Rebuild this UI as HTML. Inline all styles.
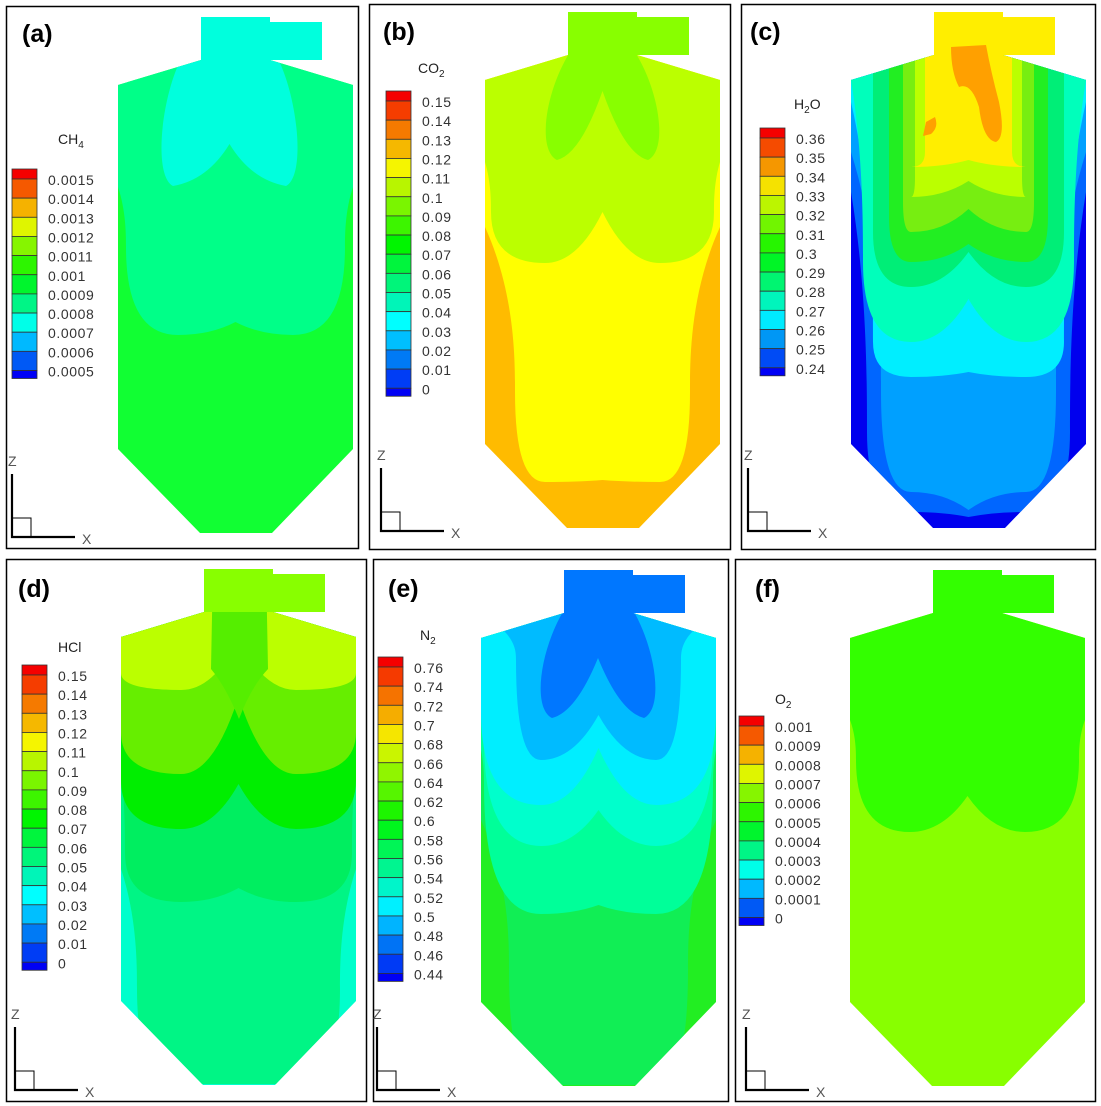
<!DOCTYPE html>
<html><head><meta charset="utf-8"><style>
html,body{margin:0;padding:0;background:#fff;}
svg{display:block;font-family:"Liberation Sans",sans-serif;}
</style></head><body>
<svg id="fig" width="1101" height="1106" viewBox="0 0 1101 1106" xmlns="http://www.w3.org/2000/svg"></svg>
<script>
// ---- legend data ----
const labelsA = ["0.0015","0.0014","0.0013","0.0012","0.0011","0.001","0.0009","0.0008","0.0007","0.0006","0.0005"];
const labelsB = ["0.15","0.14","0.13","0.12","0.11","0.1","0.09","0.08","0.07","0.06","0.05","0.04","0.03","0.02","0.01","0"];
const labelsC = ["0.36","0.35","0.34","0.33","0.32","0.31","0.3","0.29","0.28","0.27","0.26","0.25","0.24"];
const labelsD = ["0.15","0.14","0.13","0.12","0.11","0.1","0.09","0.08","0.07","0.06","0.05","0.04","0.03","0.02","0.01","0"];
const labelsE = ["0.76","0.74","0.72","0.7","0.68","0.66","0.64","0.62","0.6","0.58","0.56","0.54","0.52","0.5","0.48","0.46","0.44"];
const labelsF = ["0.001","0.0009","0.0008","0.0007","0.0006","0.0005","0.0004","0.0003","0.0002","0.0001","0"];

const NS="http://www.w3.org/2000/svg";
const svg=document.getElementById('fig');
function mk(tag,attrs,parent){const e=document.createElementNS(NS,tag);for(const k in attrs)e.setAttribute(k,attrs[k]);(parent||svg).appendChild(e);return e;}

const W=235, CX=117.5;
const bodyPath="M0,68 L83,43 L152,43 L235,68 L235,432 L154,516 L82,516 L0,432 Z";
const outletPath="M83,0 L152,0 L152,5 L204,5 L204,43 L83,43 Z";
function band(l){const i=l.i||0;const r=W-i;
 let start, end;
 if(l.flat){start=`M${i},-10 L${r},-10 L${r},${l.yl}`; end=` Z`;}
 else if(i>0){const yt=(l.yt!==undefined)?l.yt:68;
  start=`M-10,-10 L245,-10 L245,${yt} L${W},${yt} C${r},${yt+(l.yl-yt)*0.4} ${r},${l.yl-(l.yl-yt)*0.2} ${r},${l.yl}`;
  end=` C${i},${l.yl-(l.yl-yt)*0.2} ${i},${yt+(l.yl-yt)*0.4} 0,${yt} L-10,${yt} Z`;
 } else {start=`M-10,-10 L245,-10 L245,${l.yl} L${r},${l.yl}`; end=` L-10,${l.yl} Z`;}
 return start+` Q${r},${l.yd} ${W-60},${l.yd} Q${CX+25},${l.yd} ${CX},${l.yp} Q${CX-25},${l.yd} 60,${l.yd} Q${i},${l.yd} ${i},${l.yl}`+end;}
function lobes(x1,x2,yb,yn,t1,t2){const c=(x1+x2)/2;
 return `M${t1},40 C${x1+4},80 ${x1-4},${yb-10} ${x1+16},${yb} Q${c-22},${yb-6} ${c},${yn} Q${c+22},${yb-6} ${x2-16},${yb} C${x2+4},${yb-10} ${x2-4},80 ${t2},40 Z`;}

const panels=[
 {id:'a',box:[6,6,352,542],L:118,T:17,lab:[22,42],title:'CH',sub:'4',tpos:[58,144],lx:12,ly0:179,labels:labelsA,axis:[12,537],
  base:'#11ff33',layers:[{c:'#00ff88',i:8,yt:170,yl:230,yd:318,yp:305}],lobe:{c:'#00ffdd',x1:39,x2:184,yb:169,yn:127,t1:64,t2:159},outlet:'#00ffdd'},
 {id:'b',box:[369,4,361,545],L:485,T:12,lab:[383,40],title:'CO',sub:'2',tpos:[418,73],lx:386,ly0:101,labels:labelsB,axis:[381,531],
  base:'#ffbb00',layers:[{c:'#ffff00',i:30,yt:215,yl:380,yd:470,yp:468},{c:'#bbff00',i:6,yt:150,yl:200,yd:251,yp:200}],lobe:{c:'#88ff00',x1:56,x2:179,yb:148,yn:79,t1:85,t2:150},outlet:'#88ff00'},
 {id:'c',box:[741,4,354,545],L:851,T:12,lab:[750,40],title:'H',sub:'2',tail:'O',tpos:[794,109],lx:760,ly0:138,labels:labelsC,axis:[748,531],
  base:'#0000ee',layers:[{c:'#0066ff',i:16,yt:180,yl:420,yd:500,yp:505},{c:'#00a0ff',i:30,yt:140,yl:380,yd:480,yp:498},{c:'#00eeff',i:22,yt:90,yl:330,yd:365,yp:360},
   {c:'#00ffbb',i:12,yt:68,yl:250,yd:330,yp:287},{c:'#00ee77',i:22,flat:true,yl:220,yd:275,yp:240},{c:'#22ee22',i:38,flat:true,yl:205,yd:250,yp:232},{c:'#77ee11',i:52,flat:true,yl:190,yd:220,yp:197},
   {c:'#bbff00',i:64,flat:true,yl:165,yd:185,yp:169},{c:'#ffee00',i:74,flat:true,yl:140,yd:155,yp:148}],outlet:'#ffee00',orange:true},
 {id:'d',box:[6,559,360,542],L:121,T:569,lab:[18,597],title:'HCl',tpos:[58,652],lx:22,ly0:675,labels:labelsD,axis:[15,1090],
  base:'#00ffcc',layers:[{c:'#00f585',i:16,yt:300,yl:420,yd:515,yp:515},{c:'#00ee60',i:4,yt:200,yl:284,yd:333,yp:319},{c:'#00ee00',yl:211,yd:260,yp:215},
   {c:'#66ee00',yl:163,yd:205,yp:128},{c:'#bbff00',yl:104,yd:121,yp:70}],stem:'#55ee00',outlet:'#88ff00'},
 {id:'e',box:[373,559,355,542],L:481,T:570,lab:[388,597],title:'N',sub:'2',tpos:[420,640],lx:378,ly0:667,labels:labelsE,axis:[377,1090],
  base:'#22ee22',layers:[{c:'#11ee55',i:28,yt:250,yl:400,yd:515,yp:515},{c:'#00ff99',i:3,yt:180,yl:215,yd:344,yp:335},{c:'#00ffcc',i:3,yt:130,yl:170,yd:276,yp:240},
   {c:'#00eeff',yl:141,yd:235,yp:178},{c:'#00bbff',i:35,yt:45,yl:90,yd:190,yp:145}],lobe:{c:'#0077ff',x1:55,x2:179,yb:148,yn:88,t1:83,t2:152},outlet:'#0077ff'},
 {id:'f',box:[735,559,360,542],L:850,T:570,lab:[755,597],title:'O',sub:'2',tpos:[775,704],lx:739,ly0:726,labels:labelsF,axis:[746,1090],
  base:'#88ff00',layers:[{c:'#33ff00',i:6,yt:150,yl:190,yd:262,yp:226}],outlet:'#33ff00'}
];

function legendColor(k,n){const h=240*(1-k/(n-1));return `hsl(${h},100%,${h>170&&h<200?50:48}%)`;}

panels.forEach(p=>{
 const g=mk('g',{});
 
 
 const fr=mk('rect',{x:p.box[0]+0.5,y:p.box[1]+0.5,width:p.box[2],height:p.box[3],fill:'none',stroke:'#000','stroke-width':1.5},g);
 
 
 const lt=mk('text',{x:p.lab[0],y:p.lab[1],'font-size':25,'font-weight':'bold',fill:'#000'},g);
 lt.textContent='('+p.id+')';
 
 
 const cid='clip'+p.id;
 const cp=mk('clipPath',{id:cid},g);
 mk('path',{d:bodyPath+' '+outletPath},cp);
 const v=mk('g',{transform:`translate(${p.L},${p.T})`,'clip-path':`url(#${cid})`},g);
 
 
 mk('rect',{x:-5,y:-5,width:250,height:530,fill:p.base},v);
 p.layers.forEach(l=>{const b=mk('path',{d:band(l),fill:l.c},v);
  
  });
 if(p.stem){mk('path',{d:`M92,-5 L145,-5 L147,100 Q130,118 118,150 Q105,118 90,100 Z`,fill:p.stem},v);}
 const o=mk('path',{d:outletPath,fill:p.outlet},v);
 
 
 if(p.lobe){const lb=p.lobe;const e=mk('path',{d:lobes(lb.x1,lb.x2,lb.yb,lb.yn,lb.t1,lb.t2),fill:lb.c},v);
  
  
  if(p.id!=='a'){mk('rect',{x:lb.t1,y:-5,width:lb.t2-lb.t1,height:50,fill:lb.c},v);}}
 if(p.orange){mk('path',{d:'M100,35 L135,33 Q140,60 148,90 Q155,125 145,130 Q132,128 128,95 Q120,70 108,75 Q100,60 100,35 Z M75,110 L84,105 Q88,115 80,122 L72,124 Z',fill:'#ffa000'},v);}
 const n=p.labels.length+1, step=19.15;
 const lg=mk('g',{},g);
 
 
 for(let k=0;k<n;k++){
  const y0 = k===0? p.ly0-10 : p.ly0+(k-1)*step;
  const h = k===0?10:(k===n-1?8:step);
  const r=mk('rect',{x:p.lx,y:y0,width:25,height:h,fill:legendColor(n-1-k,n),stroke:'#333','stroke-width':0.8},lg);
  
  
 }
 p.labels.forEach((t,k)=>{const tx=mk('text',{x:p.lx+36,y:p.ly0+k*step+6,'font-size':14,fill:'#333','letter-spacing':'0.6'},lg);
  tx.textContent=t;
  
  });
 const tt=mk('text',{x:p.tpos[0],y:p.tpos[1],'font-size':14,fill:'#222'},g);
 
 
 tt.appendChild(document.createTextNode(p.title));
 if(p.sub){const s=mk('tspan',{'font-size':10,dy:4},tt);s.textContent=p.sub;}
 if(p.tail){const s=mk('tspan',{dy:-4},tt);s.textContent=p.tail;}
 const [ox,oy]=p.axis;
 const ax=mk('g',{stroke:'#000',fill:'none'},g);
 
 
 mk('path',{d:`M${ox},${oy-63} L${ox},${oy} L${ox+63},${oy}`,'stroke-width':2.2},ax);
 mk('rect',{x:ox,y:oy-19,width:19,height:19,'stroke-width':1},ax);
 const zt=mk('text',{x:ox-4,y:oy-71,'font-size':14,fill:'#555'},g);zt.textContent='Z';
 
 
 const xt=mk('text',{x:ox+70,y:oy+7,'font-size':14,fill:'#555'},g);xt.textContent='X';
 
 
});
</script>
</body></html>
